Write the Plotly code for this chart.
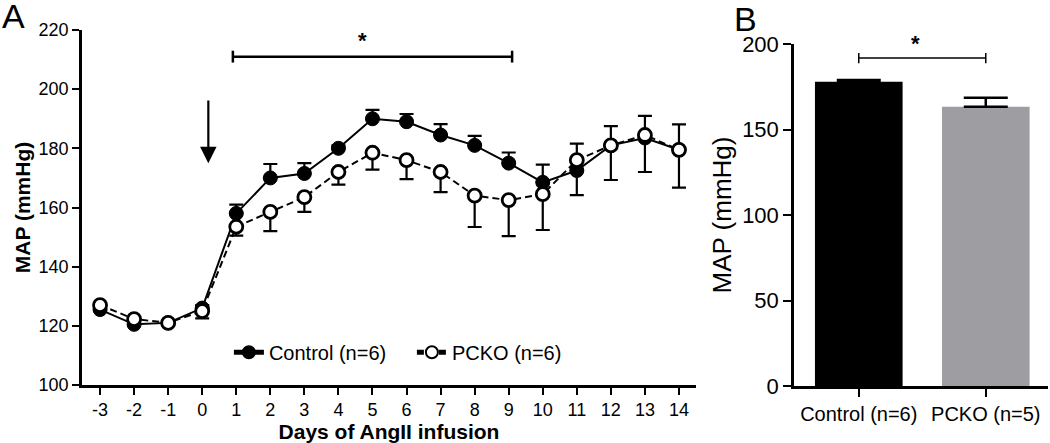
import plotly.graph_objects as go

# ---------------- data ----------------
days = list(range(-3, 15))
day_labels = [str(d) for d in days]
control_mean = [125.5, 120.5, 121, 126, 158, 170, 171.5, 180, 190, 189, 184.5, 181, 175, 168.5, 172.5, 181, 183.5, 179.5]
control_err_up = [0, 0, 0, 1, 3, 4.7, 3.5, 1, 3, 2.6, 3.7, 3.2, 3.6, 6, 0, 0, 0, 0]
control_err_down = [0, 0, 0, 0, 0, 0, 0, 0, 0, 0, 0, 0, 0, 0, 8.3, 11.7, 11.5, 12.8]
pcko_mean = [127, 122.3, 121, 125, 153.5, 158.5, 163.5, 172, 178.5, 176, 172, 164, 162.5, 164.5, 176, 181, 184.5, 179.5]
pcko_err_up = [0, 0, 0, 0, 0, 0, 0, 0, 0, 0, 0, 0, 0, 0, 5.6, 6.5, 6.5, 8.6]
pcko_err_down = [0, 0, 0, 2.5, 3, 6.5, 5, 4.3, 5.7, 6.4, 6.8, 10.6, 12.2, 12.1, 0, 0, 0, 0]

bar_groups = ["Control (n=6)", "PCKO (n=5)"]
bar_means = [177.9, 163.3]
bar_err = [1.0, 5.3]

FONT = "Arial, Liberation Sans, sans-serif"

fig = go.Figure()

# Panel A lines
fig.add_trace(go.Scatter(
    x=days, y=control_mean, mode="lines+markers", name="Control (n=6)",
    line=dict(color="black", width=2),
    marker=dict(symbol="circle", size=14, color="black", line=dict(color="black", width=1)),
    error_y=dict(type="data", symmetric=False, array=control_err_up, arrayminus=control_err_down,
                 color="black", thickness=2.2, width=7),
    xaxis="x", yaxis="y",
))
fig.add_trace(go.Scatter(
    x=days, y=pcko_mean, mode="lines+markers", name="PCKO (n=6)",
    line=dict(color="black", width=2, dash="7px,4px"),
    marker=dict(symbol="circle", size=13, color="white", line=dict(color="black", width=2.8)),
    error_y=dict(type="data", symmetric=False, array=pcko_err_up, arrayminus=pcko_err_down,
                 color="black", thickness=2.2, width=7),
    xaxis="x", yaxis="y",
))

# Panel B bars
fig.add_trace(go.Bar(
    x=bar_groups, y=bar_means, width=0.69,
    marker=dict(color=["black", "#9e9da2"], line=dict(width=0)),
    error_y=dict(type="data", symmetric=False, array=bar_err, arrayminus=[0, 0],
                 color="black", thickness=2.5, width=22),
    showlegend=False, xaxis="x2", yaxis="y2",
))

axis_common = dict(showline=True, linecolor="black", linewidth=2.5, ticks="outside",
                   tickcolor="black", tickwidth=2.2, showgrid=False, zeroline=False,
                   mirror=False, automargin=False)

fig.update_layout(
    width=1050, height=443,
    margin=dict(l=0, r=0, t=0, b=0),
    paper_bgcolor="white", plot_bgcolor="white",
    font=dict(family=FONT, color="black"),
    showlegend=True,
    legend=dict(orientation="h", x=0.218, y=0.205, xanchor="left", yanchor="middle",
                font=dict(size=20, family=FONT), itemwidth=30, entrywidth=138,
                bgcolor="rgba(0,0,0,0)", itemsizing="constant"),
    xaxis=dict(domain=[82/1050, 696/1050], range=[-3.53, 14.5], tickvals=days, ticktext=day_labels,
               ticklen=7, tickfont=dict(size=18),
               title=dict(text="<b>Days of AngII infusion</b>", font=dict(size=21), standoff=4),
               anchor="y", **axis_common),
    yaxis=dict(domain=[1-385/443, 1-30/443], range=[100, 220], dtick=20,
               ticklen=7, tickfont=dict(size=18),
               title=dict(text="<b>MAP (mmHg)</b>", font=dict(size=21), standoff=3),
               anchor="x", **axis_common),
    xaxis2=dict(domain=[794/1050, 1048/1050], range=[-0.51, 1.49], type="category",
                ticklen=8, tickfont=dict(size=20), anchor="y2", **axis_common),
    yaxis2=dict(domain=[1-386/443, 1-44/443], range=[0, 200], tickvals=[0, 50, 100, 150, 200],
                ticklen=8, tickfont=dict(size=22),
                title=dict(text="MAP (mmHg)", font=dict(size=26), standoff=4),
                anchor="x2", **axis_common),
)

# Significance bracket A (days 1-9)
sigA_x0, sigA_x1, sigA_y = 0.9, 9.1, 211
fig.add_shape(type="line", xref="x", yref="y", x0=sigA_x0, x1=sigA_x1, y0=sigA_y, y1=sigA_y,
              line=dict(color="black", width=2.5))
for xx in (sigA_x0, sigA_x1):
    fig.add_shape(type="line", xref="x", yref="y", x0=xx, x1=xx, y0=sigA_y-2, y1=sigA_y+2,
                  line=dict(color="black", width=2.5))
fig.add_annotation(x=4.7, y=216.5, xref="x", yref="y", text="<b>*</b>", showarrow=False,
                   font=dict(size=22, family=FONT), yanchor="middle")

# Arrow at start of AngII infusion
fig.add_annotation(x=0.18, y=175, ax=0.18, ay=196.7, xref="x", yref="y", axref="x", ayref="y",
                   text="", showarrow=True, arrowhead=2, arrowsize=1.5, arrowwidth=2.2,
                   arrowcolor="black")

# Significance bracket B
sigB_y = 191.8
fig.add_shape(type="line", xref="x2", yref="y2", x0=0, x1=1, y0=sigB_y, y1=sigB_y,
              line=dict(color="black", width=1.5))
for xx in (0, 1):
    fig.add_shape(type="line", xref="x2", yref="y2", x0=xx, x1=xx, y0=sigB_y-3, y1=sigB_y+3,
                  line=dict(color="black", width=1.5))
fig.add_annotation(x=0.45, y=1-44/443, xref="x2", yref="paper", text="<b>*</b>", showarrow=False,
                   font=dict(size=22, family=FONT), yanchor="middle")

# Panel labels
fig.add_annotation(x=1/1050, y=1-16/443, xref="paper", yref="paper", text="A", showarrow=False,
                   xanchor="left", yanchor="middle", borderpad=0, font=dict(size=34, family=FONT))
fig.add_annotation(x=733/1050, y=1-19/443, xref="paper", yref="paper", text="B", showarrow=False,
                   xanchor="left", yanchor="middle", borderpad=0, font=dict(size=34, family=FONT))

fig.write_html("out.html", config={"displayModeBar": False},
               post_script="document.body.style.margin='0';document.body.style.overflow='hidden';")
